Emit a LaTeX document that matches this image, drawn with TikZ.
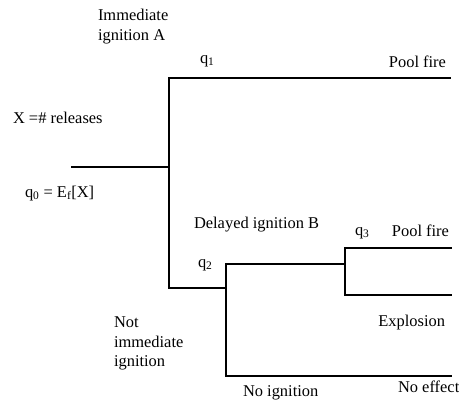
\documentclass[tikz,border=0pt]{standalone}
\usepackage{fontspec}
\setmainfont{Liberation Serif}
\begin{document}
\begin{tikzpicture}[x=1bp,y=-1bp,
  lbl/.style={inner sep=0pt,outer sep=0pt,font=\fontsize{16.5}{20}\selectfont},
  lw/.style={lbl,anchor=base west},
  le/.style={lbl,anchor=base east},
  thinline/.style={line width=1.1bp},
  thickline/.style={line width=2.3bp},
  line cap=rect]
\useasboundingbox (0,0) rectangle (459,409);
% tree coordinates
\coordinate (root) at (72,167);
\coordinate (b0) at (169,167);
\coordinate (t1) at (169,78);
\coordinate (e1) at (450,78);
\coordinate (t2) at (169,288);
\coordinate (j2) at (226,288);
\coordinate (d1) at (226,264);
\coordinate (e2) at (345,264);
\coordinate (n1) at (226,376);
\coordinate (ne) at (451,376);
\coordinate (p1) at (345,248);
\coordinate (pe) at (451,248);
\coordinate (x1) at (345,295);
\coordinate (xe) at (451,295);
% connectors
\draw[thinline] (root) -- (b0);
\draw[thinline] (t1) -- (t2);
\draw[thickline] (t1) -- (e1);
\draw[thinline] (t2) -- (j2);
\draw[thinline] (d1) -- (n1);
\draw[thickline] (d1) -- (e2);
\draw[thinline] (p1) -- (x1);
\draw[thinline] (p1) -- (pe);
\draw[thinline] (x1) -- (xe);
\draw[thinline] (n1) -- (ne);
% labels
\node[lw] (imm1) at (98,20) {Immediate};
\node[lw] (imm2) at (98,40) {ignition A};
\node[lw] (q1) at (200,63) {q\textsubscript{1}};
\node[le] (pf1) at (446,67) {Pool fire};
\node[lw] (xrel) at (13,123) {X =\# releases};
\node[lw] (q0) at (25,197) {q\textsubscript{0} = E\textsubscript{f}[X]};
\node[lw] (del) at (194,228) {Delayed ignition B};
\node[lw] (q2) at (198,267) {q\textsubscript{2}};
\node[lw] (q3) at (355,235) {q\textsubscript{3}};
\node[le] (pf2) at (449,236) {Pool fire};
\node[le] (expl) at (445,326) {Explosion};
\node[lw] (not1) at (114,327) {Not};
\node[lw] (not2) at (114,347) {immediate};
\node[lw] (not3) at (114,366) {ignition};
\node[lw] (noeff) at (398,392) {No effect};
\node[lw] (noign) at (243,396) {No ignition};
\end{tikzpicture}
\end{document}
